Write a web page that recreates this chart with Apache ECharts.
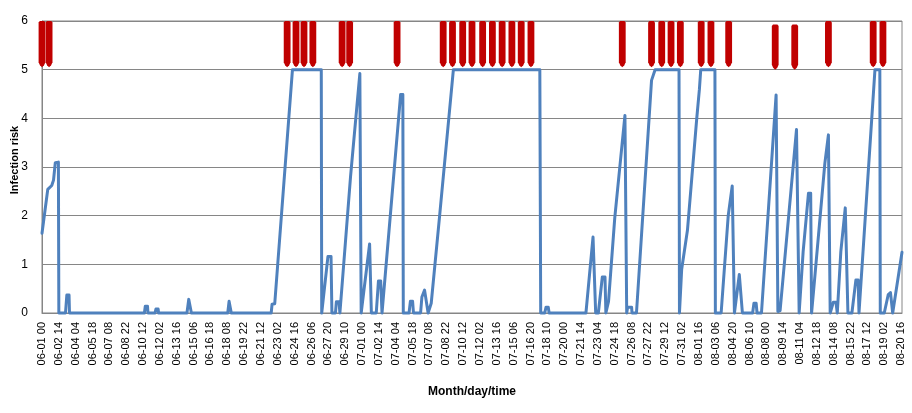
<!DOCTYPE html>
<html>
<head>
<meta charset="utf-8">
<script src="https://cdn.jsdelivr.net/npm/echarts@6/dist/echarts.min.js"></script>
<style>
html,body{margin:0;padding:0;background:#fff;}
#chart{width:912px;height:413px;}
</style>
</head>
<body>
<div id="chart"></div>
<script>
// X tick labels (one every 38 hourly steps)
const xLabels = ['06-01 00','06-02 14','06-04 04','06-05 18','06-07 08','06-08 22','06-10 12','06-12 02','06-13 16','06-15 06','06-16 18','06-18 08','06-19 22','06-21 12','06-23 02','06-24 16','06-26 06','06-27 20','06-29 10','07-01 00','07-02 14','07-04 04','07-05 18','07-07 08','07-08 22','07-10 12','07-12 02','07-13 16','07-15 06','07-16 20','07-18 10','07-20 00','07-21 14','07-23 04','07-24 18','07-26 08','07-27 22','07-29 12','07-31 02','08-01 16','08-03 06','08-04 20','08-06 10','08-08 00','08-09 14','08-11 04','08-12 18','08-14 08','08-15 22','08-17 12','08-19 02','08-20 16'];
const labelStep = 38;
const lastIndex = 1940;

// Infection risk: hour index (from 06-01 00) and value
const riskHours = [0,13,17,22,26,30,37,38, 53,56,61,62, 231,233,238,239, 255,257,262,263, 327,331,335,337, 419,422,426,427,
 517,519,525,565,630,631,632, 645,652,654, 662,664,670,672,674, 696,717,719,720, 722,739,741,743, 754,759,764,767,769,
 809,814,815, 828,831,836,838, 854,857,863,867,871,875,878,882,897,928, 1123,1125, 1134,1137,1142,1144,
 1227,1243,1246,1249,1255,1264,1270,1272,1274,1278,1292,1315,1317,1319, 1321,1330,1331,1341,1375,1383,1437,1438,
 1443,1456,1477,1483,1486,1518,1519, 1532,1548,1557,1560,1562,1565,1573,1577,1580,
 1603,1606,1611,1613,1623,1656,1658,1660,1665,1702,1705,1708, 1717,1721,1729,1734,1736,
 1744,1748,1766,1774,1776,1778, 1782,1785,1791,1794,1802,1812,1816,1818, 1827,1836,1841,1843,1844,1879,1890,1891,
 1900,1909,1914,1919,1922,1940];
const riskValues = [1.64,2.54,2.57,2.62,2.73,3.09,3.1,0, 0,0.37,0.37,0, 0,0.14,0.14,0, 0,0.08,0.08,0, 0,0.28,0.28,0, 0,0.24,0.24,0,
 0,0.18,0.19,5,5,0,0, 1.16,1.16,0, 0,0.23,0.23,0,0, 2.8,4.92,4.92,0, 0,1.42,1.42,0, 0,0.66,0.66,0,0,
 4.49,4.49,0, 0,0.24,0.24,0, 0,0.33,0.47,0.47,0,0,0.2,0.2,2.0,5, 5,0, 0,0.12,0.12,0,
 0,1.56,1.56,0,0,0.74,0.74,0,0,0.24,1.95,4.06,4.06,0, 0.12,0.12,0,0,4.78,5,5,0,
 0.9,1.7,4.0,4.6,5,5,0, 0,2.0,2.61,2.61,0,0,0.79,0.79,0,
 0,0.2,0.2,0,0,4.48,4.48,0.03,0.05,3.77,3.77,0, 1.26,1.28,2.46,2.46,0,
 0.81,0.82,3.08,3.66,3.66,0, 0,0.22,0.22,0,1.26,2.16,2.16,0, 0,0.68,0.68,0,0,5,5,0,
 0,0.38,0.42,0,0,1.25];

// Red markers: hour index, top value, bottom value
const markerHours = [0,16,553,573,591,611,677,694,801,905,926,949,970,994,1016,1038,1060,1081,1103,1309,1375,1398,1419,1440,1487,1509,1549,1654,1698,1774,1875,1897];
const markerTop = [6,6,6,6,6,6,6,6,6,6,6,6,6,6,6,6,6,6,6,6,6,6,6,6,6,6,6,5.93,5.93,6,6,6];
const markerBottom = [5.05,5.05,5.05,5.05,5.05,5.05,5.05,5.05,5.05,5.05,5.05,5.05,5.05,5.05,5.05,5.05,5.05,5.05,5.05,5.05,5.05,5.05,5.05,5.05,5.05,5.05,5.05,5.0,5.0,5.05,5.05,5.05];

const lineData = riskHours.map((h, i) => [h, riskValues[i]]);
const markerData = markerHours.map((h, i) => [h, markerTop[i], markerBottom[i]]);

const chart = echarts.init(document.getElementById('chart'), null, {renderer: 'canvas'});
const gray = '#868686';
chart.setOption({
  animation: false,
  backgroundColor: '#fff',
  grid: {left: 42, right: 10, top: 21, bottom: 100, show: true, borderColor: gray, borderWidth: 1},
  xAxis: {
    type: 'value', min: 0, max: lastIndex, interval: labelStep,
    name: 'Month/day/time', nameLocation: 'middle', nameGap: 73,
    nameTextStyle: {fontFamily: 'Liberation Sans', fontWeight: 'bold', fontSize: 12, color: '#000'},
    axisLine: {show: true, lineStyle: {color: gray}},
    axisTick: {show: false},
    splitLine: {show: false},
    axisLabel: {
      rotate: 90, margin: 9, fontFamily: 'Liberation Sans', fontSize: 11, color: '#000',
      showMaxLabel: false, showMinLabel: true,
      formatter: v => (v % labelStep === 0 && xLabels[v / labelStep] !== undefined) ? xLabels[v / labelStep] : ''
    }
  },
  yAxis: {
    type: 'value', min: 0, max: 6, interval: 1,
    axisLine: {show: true, lineStyle: {color: gray}},
    axisTick: {show: false},
    splitLine: {show: true, lineStyle: {color: gray, width: 1}},
    axisLabel: {margin: 14, fontFamily: 'Liberation Sans', fontSize: 12, color: '#000'}
  },
  graphic: [{
    type: 'text', x: 15, y: 160, rotation: Math.PI / 2,
    style: {text: 'Infection risk', fontFamily: 'Liberation Sans', fontWeight: 'bold', fontSize: 11, fill: '#000',
            textAlign: 'center', textVerticalAlign: 'middle'}
  }],
  series: [{
    type: 'line', data: lineData, showSymbol: false, clip: false,
    lineStyle: {color: '#4F81BD', width: 3, join: 'round', cap: 'round'},
    itemStyle: {color: '#4F81BD'}, z: 2
  }, {
    type: 'custom', data: markerData, clip: false, z: 3,
    encode: {x: 0, y: [1, 2]},
    renderItem: function (params, api) {
      const h = api.value(0);
      const p1 = api.coord([h, api.value(1)]);
      const p2 = api.coord([h, api.value(2)]);
      const x = p1[0], y1 = p1[1], y2 = p2[1], w = 3.4;
      return {
        type: 'polygon',
        shape: {points: [[x - w, y1 + 1.5], [x - w + 1.2, y1], [x + w - 1.2, y1], [x + w, y1 + 1.5],
                         [x + w, y2 - 5], [x + w * 0.6, y2 - 2], [x, y2], [x - w * 0.6, y2 - 2], [x - w, y2 - 5]]},
        style: {fill: '#C00000'}
      };
    }
  }]
});
</script>
</body>
</html>
